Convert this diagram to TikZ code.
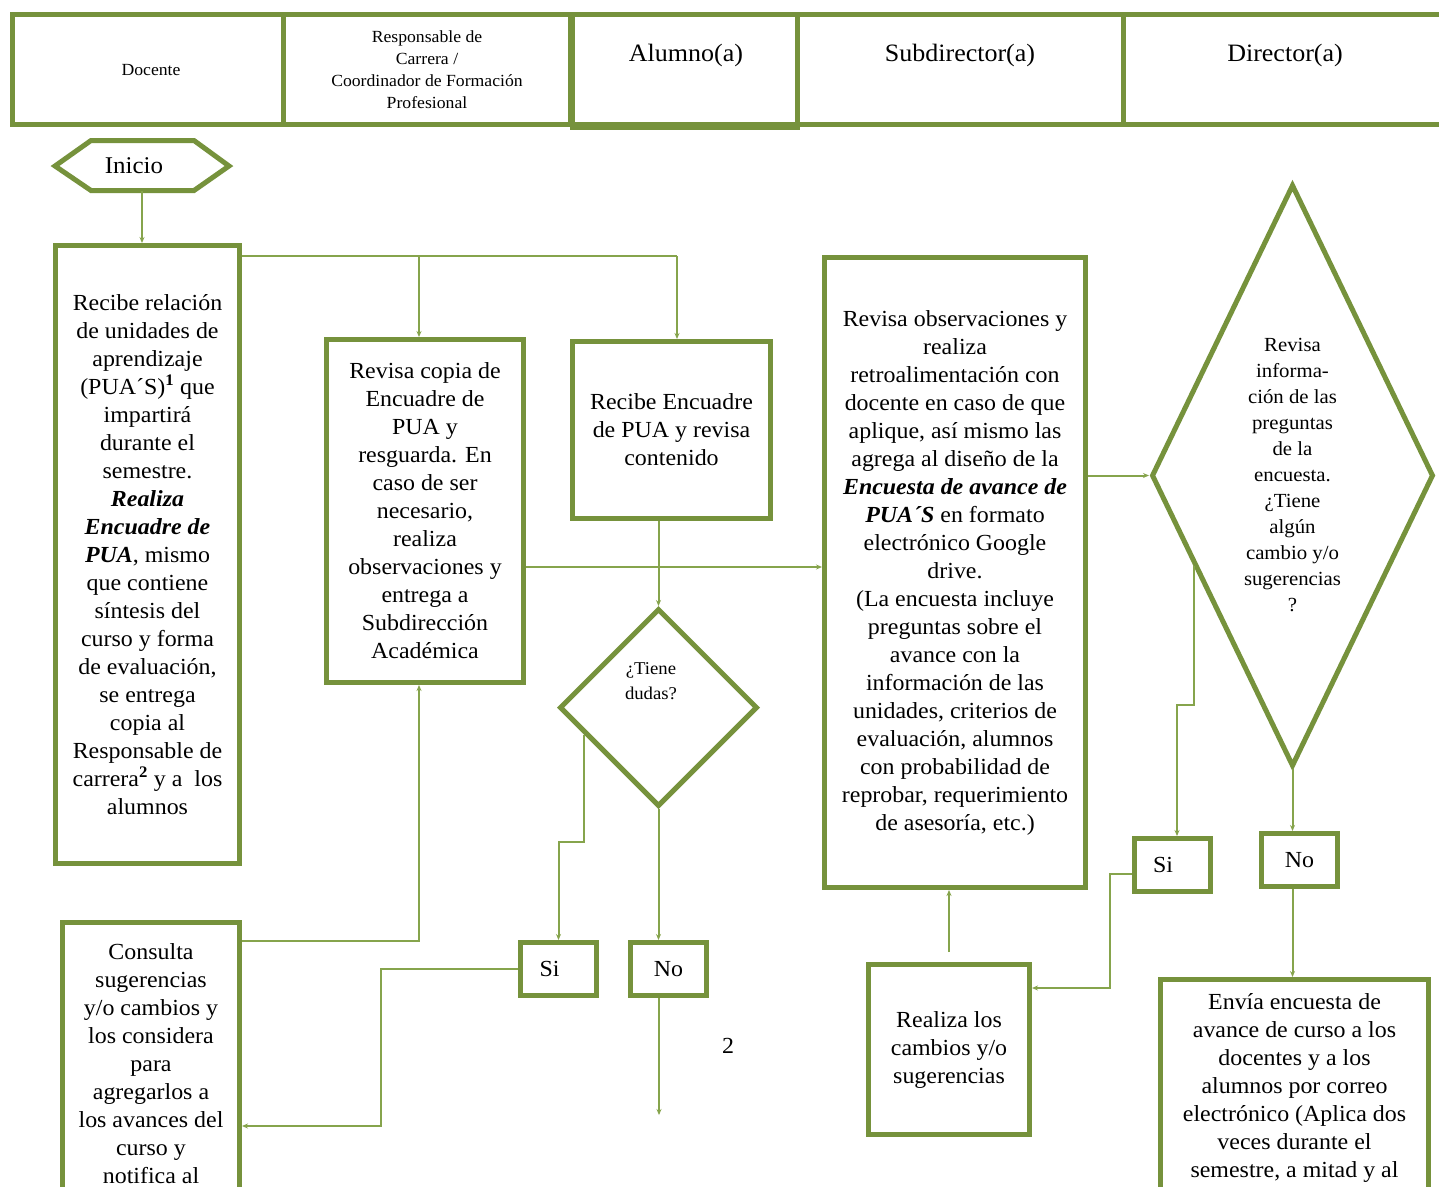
\documentclass[tikz,border=0pt]{standalone}
\usepackage{fontspec}
\setmainfont{Liberation Serif}[FakeStretch=1.04]
\usetikzlibrary{shapes.geometric,calc,arrows.meta}
\definecolor{olive}{HTML}{76923C}
\definecolor{conn}{HTML}{86A44C}
\begin{document}
\begin{tikzpicture}[x=1pt,y=-1pt,
  boxtxt/.style={font=\fontsize{23}{28}\selectfont},
  box/.style={draw=olive, line width=5pt, rectangle, align=center, inner sep=0pt, boxtxt},
  sino/.style={box, minimum width=76, minimum height=53},
  sibox/.style={sino, text width=38, align=left, inner xsep=19},
  dia/.style={draw=olive, line width=5pt, diamond, line join=miter, inner sep=0pt, align=center},
  hdr/.style={draw=olive, line width=5pt},
  arr/.style={draw=conn, line width=2pt, -{Stealth[length=6pt,width=5pt]}},
  ln/.style={draw=conn, line width=2pt}
]
\useasboundingbox (0,0) rectangle (1439,1186);
\fill[white] (0,0) rectangle (1439,1186);
\clip (0,0) rectangle (1439,1186);

% header
\draw[hdr] (12,14) rectangle (1460,124);
\draw[hdr] (283,14) -- (283,124);
\draw[hdr] (570,14) -- (570,124);
\draw[hdr] (572,14) rectangle (797,127);
\draw[hdr] (1123,14) -- (1123,124);
\node[font=\fontsize{17}{22}\selectfont] (hdoc) at (151,70) {Docente};
\node[font=\fontsize{17}{22}\selectfont, align=center] (hresp) at (427,70) {Responsable de\\Carrera /\\Coordinador de Formación\\Profesional};
\node[font=\fontsize{25}{30}\selectfont] (halu) at (686,55) {Alumno(a)};
\node[font=\fontsize{25}{30}\selectfont] (hsub) at (960,55) {Subdirector(a)};
\node[font=\fontsize{25}{30}\selectfont] (hdir) at (1285,55) {Director(a)};

% inicio
\draw[hdr, line join=miter] (55,166) -- (91,140.5) -- (194,140.5) -- (229,166) -- (194,190.5) -- (91,190.5) -- cycle;
\node[font=\fontsize{24}{28}\selectfont, minimum width=175, minimum height=50, inner sep=0pt] (inicio) at (142,165.5) {\hspace*{-16pt}Inicio};

% boxes
\node[box, minimum width=184, minimum height=618] (b1) at (147.5,554.5) {Recibe relación\\de unidades de\\aprendizaje\\(PUA´S)\textsuperscript{\textbf{1}} que\\impartirá\\durante el\\semestre.\\\textbf{\textit{Realiza}}\\\textbf{\textit{Encuadre de}}\\\textbf{\textit{PUA}}, mismo\\que contiene\\síntesis del\\curso y forma\\de evaluación,\\se entrega\\copia al\\Responsable de\\carrera\textsuperscript{\textbf{2}} y a\ \ los\\alumnos};
\node[box, minimum width=197, minimum height=343] (b2) at (425,511) {Revisa copia de\\Encuadre de\\PUA y\\resguarda. En\\caso de ser\\necesario,\\realiza\\observaciones y\\entrega a\\Subdirección\\Académica};
\node[box, minimum width=198, minimum height=177] (b3) at (671.5,430) {Recibe Encuadre\\de PUA y revisa\\contenido};
\node[box, minimum width=261, minimum height=630] (b4) at (955,572.5) {Revisa observaciones y\\realiza\\retroalimentación con\\docente en caso de que\\aplique, así mismo las\\agrega al diseño de la\\\textbf{\textit{Encuesta de avance de}}\\\textbf{\textit{PUA´S}} en formato\\electrónico Google\\drive.\\(La encuesta incluye\\preguntas sobre el\\avance con la\\información de las\\unidades, criterios de\\evaluación, alumnos\\con probabilidad de\\reprobar, requerimiento\\de asesoría, etc.)};
\node[box, minimum width=177, minimum height=283] (b5) at (151,1064) {Consulta\\sugerencias\\y/o cambios y\\los considera\\para\\agregarlos a\\los avances del\\curso y\\notifica al};
\node[box, minimum width=161, minimum height=170] (b6) at (949,1049.5) {Realiza los\\cambios y/o\\sugerencias};
\node[box, minimum width=268, minimum height=217] (b7) at (1294.5,1088) {Envía encuesta de\\avance de curso a los\\docentes y a los\\alumnos por correo\\electrónico (Aplica dos\\veces durante el\\semestre, a mitad y al};

% decisions
\node[dia, minimum width=198, minimum height=198] (d1) at (658.5,707.5) {};
\node[font=\fontsize{18}{25}\selectfont, align=center] (d1t) at (651,681) {¿Tiene\\dudas?};
\node[dia, aspect=0.48, minimum width=282, minimum height=582, font=\fontsize{20}{26}\selectfont] (d2) at (1292.5,475.5) {Revisa\\informa-\\ción de las\\preguntas\\de la\\encuesta.\\¿Tiene\\algún\\cambio y/o\\sugerencias\\?};

\node[sibox] (si1) at (558.5,969) {Si};
\node[sino] (no1) at (668.5,969) {No};
\node[sibox] (si2) at (1172,865) {Si};
\node[sino] (no2) at (1299.5,860) {No};

\node[font=\fontsize{23}{28}\selectfont] (pg) at (728,1046) {2};

% connectors
\coordinate (j1) at (419,256);
\coordinate (j2) at (677,256);
\coordinate (h567) at (0,567);
\coordinate (c5) at (381,1126);
\coordinate (c2) at (419,941);
\coordinate (k1) at (1177,705);
\coordinate (k2) at (1110,874);
\coordinate (k3) at (1110,988);
\coordinate (end1) at (659,1115);
\coordinate (dq) at ($(d1.west)!0.27!(d1.south)$);
\coordinate (dp) at ($(d2.west)!0.31!(d2.south)$);

\draw[arr] (inicio.south) -- (inicio.south |- b1.north);
\draw[ln] (b1.east |- j1) -- (j2);
\draw[arr] (j1) -- (j1 |- b2.north);
\draw[arr] (j2) -- (j2 |- b3.north);
\draw[arr] (b2.east |- h567) -- (b4.west |- h567);
\draw[arr] (b3.south -| d1.north) -- (d1.north);
\draw[arr] (dq) -- ($(dq)+(0,107)$) -| (si1.north);
\draw[arr] (d1.south) -- (d1.south |- no1.north);
\draw[arr] (no1.south -| end1) -- (end1);
\draw[arr] (si1.west) -| (c5) -- (c5 -| b5.east);
\draw[arr] (c2 -| b5.east) -- (c2) -- (c2 |- b2.south);
\draw[arr] (b4.east |- d2.west) -- (d2.west);
\draw[arr] (dp) |- (k1) -- (k1 |- si2.north);
\draw[arr] (d2.south) -- (d2.south |- no2.north);
\draw[arr] (d2.south |- no2.south) -- (d2.south |- b7.north);
\draw[arr] (si2.west |- k2) -- (k2) -- (k3) -- (k3 -| b6.east);
\draw[arr] ([yshift=10pt]b6.north) -- (b6.north |- b4.south);
\end{tikzpicture}
\end{document}
